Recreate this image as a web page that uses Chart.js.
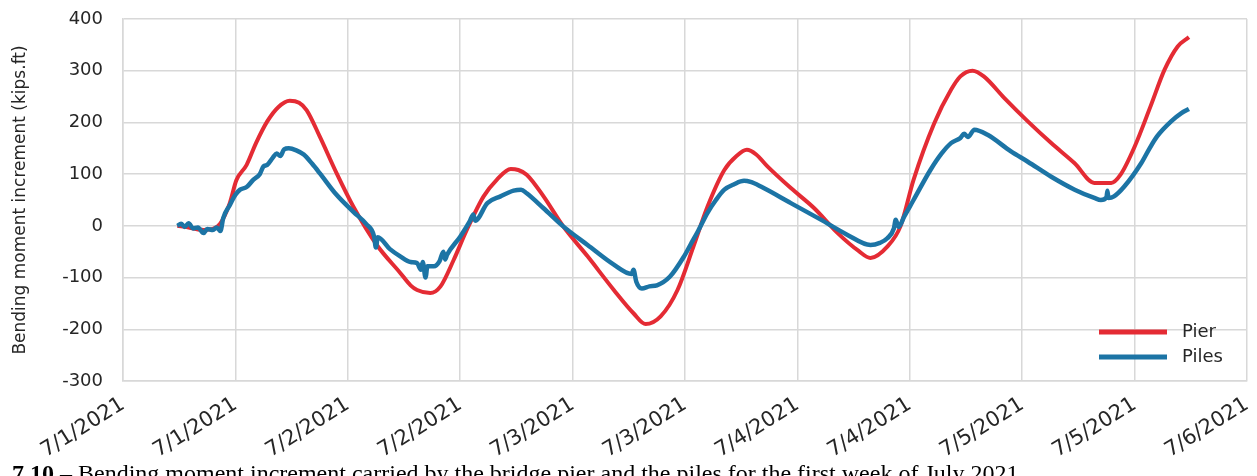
<!DOCTYPE html>
<html>
<head>
<meta charset="utf-8">
<script src="https://cdn.jsdelivr.net/npm/chart.js@4.4.0/dist/chart.umd.min.js"></script>
<style>
    html, body { margin: 0; padding: 0; background: #fff; overflow: hidden; }
    #wrap { position: relative; width: 1257px; height: 476px; }
    #caption {
        position: absolute; left: 12px; top: 461px;
        font-family: "Liberation Serif", serif; font-size: 24px; line-height: 24px;
        white-space: nowrap; color: #000;
    }
</style>
</head>
<body>
<div id="wrap">
    <canvas id="momentChart" width="1257" height="476"></canvas>
    <div id="caption"><b>7.10</b> – Bending moment increment carried by the bridge pier and the piles for the first week of July 2021.</div>
</div>
<script>
// hours since 7/1/2021 00:00, values in kips.ft
const pierHours = [5.8, 7.0, 8.6, 9.6, 10.4, 11.4, 12.1, 13.2, 14.2, 15.4, 16.6, 17.8, 18.8, 19.6, 21.0, 22.8, 24.6, 27.1, 29.6, 30.7,
    31.4, 32.8, 33.9, 35.3, 36.7, 38.5, 39.9, 41.4, 42.2, 43.1, 44.9, 47.0, 49.6, 52.4, 54.5, 55.8, 57.4, 59.2, 60.9, 62.4,
    64.2, 65.5, 66.6, 67.6, 68.8, 71.3, 73.8, 76.3, 78.5, 79.8, 81.6, 83.0, 84.4, 86.6, 88.4, 89.4, 90.7, 91.9, 94.1, 96.6,
    99.1, 101.6, 103.7, 105.5, 106.5, 108.0, 109.7, 111.2, 112.6, 113.8];
const pierValues = [0, -3, -8, -6, 5, 44, 88, 118, 160, 202, 230, 242, 238, 224, 173, 102, 37, -37, -91, -115,
    -124, -130, -117, -66, -8, 57, 89, 110, 108, 99, 57, -1, -59, -124, -169, -190, -175, -124, -40, 37,
    108, 135, 147, 138, 115, 73, 34, -14, -48, -62, -40, -1, 89, 198, 263, 289, 300, 289, 247, 202,
    160, 121, 83, 83, 99, 153, 231, 302, 347, 365];

const pilesHours = [5.8, 6.2, 6.6, 7.0, 7.5, 8.0, 8.6, 9.0, 9.6, 10.0, 10.4, 10.7, 11.4, 12.0, 12.5, 13.2, 13.9, 14.6, 15.0, 15.4,
    16.0, 16.4, 16.8, 17.2, 17.7, 18.5, 19.3, 20.2, 21.0, 22.8, 24.6, 26.0, 26.8, 27.0, 27.2, 28.5, 29.6, 30.7, 31.4, 31.8,
    32.0, 32.3, 32.5, 33.2, 33.8, 34.2, 34.4, 34.6, 36.0, 37.0, 37.4, 37.6, 38.9, 40.3, 41.7, 42.5, 43.1, 44.9, 47.0, 49.6,
    52.4, 54.3, 54.5, 54.8, 55.4, 56.2, 57.0, 58.4, 59.9, 60.6, 61.4, 62.4, 63.3, 64.2, 65.2, 66.3, 67.0, 68.1, 71.3, 74.5,
    77.3, 79.8, 80.8, 81.6, 82.3, 82.5, 82.8, 83.4, 84.4, 86.2, 87.4, 88.4, 89.4, 89.8, 90.2, 90.9, 92.3, 94.8, 96.6, 99.1,
    101.6, 103.7, 104.4, 105.0, 105.1, 105.2, 105.8, 106.9, 108.7, 109.6, 110.4, 111.9, 113.0, 113.8];
const pilesValues = [0, 4, -2, 5, -5, -3, -14, -6, -8, -3, -10, 15, 40, 60, 70, 75, 89, 100, 115, 118,
    132, 140, 135, 148, 150, 146, 138, 120, 102, 60, 27, 3, -20, -42, -22, -45, -59, -70, -72, -85,
    -70, -100, -78, -78, -68, -50, -65, -56, -21, 8, 22, 10, 44, 57, 68, 70, 63, 34, -1, -37,
    -75, -93, -85, -108, -121, -117, -115, -98, -59, -36, -10, 25, 50, 70, 80, 87, 85, 76, 44, 12,
    -17, -37, -33, -24, -5, 12, -2, 18, 50, 108, 140, 160, 170, 178, 172, 186, 176, 144, 124, 95,
    70, 54, 50, 55, 68, 54, 57, 76, 121, 150, 173, 202, 218, 226];

const yTicks = [-300, -200, -100, 0, 100, 200, 300, 400];
const xTickHours = [0, 12, 24, 36, 48, 60, 72, 84, 96, 108, 120];
const seriesNames = ['Pier', 'Piles'];
const seriesColors = ['#e42b34', '#1c74a5'];

const toPoints = (hours, values) => hours.map((h, i) => ({ x: h, y: values[i] }));
const dayLabel = (h) => '7/' + (1 + Math.floor(h / 24)) + '/2021';

const gridColor = '#d8d8d8';
const textColor = '#262626';
const fontFamily = '"DejaVu Sans", sans-serif';

// legend sits inside the plot, bottom right
const insideLegend = {
    id: 'insideLegend',
    afterDatasetsDraw(chart) {
        const ctx = chart.ctx;
        const area = chart.chartArea;
        const rows = [area.bottom - 49, area.bottom - 24];
        ctx.save();
        ctx.font = '18px ' + fontFamily;
        ctx.textBaseline = 'middle';
        ctx.textAlign = 'left';
        seriesNames.forEach((name, i) => {
            ctx.beginPath();
            ctx.strokeStyle = seriesColors[i];
            ctx.lineWidth = 5;
            ctx.moveTo(area.right - 148, rows[i]);
            ctx.lineTo(area.right - 80, rows[i]);
            ctx.stroke();
            ctx.fillStyle = textColor;
            ctx.fillText(name, area.right - 65, rows[i]);
        });
        ctx.restore();
    }
};

const ctx = document.getElementById('momentChart').getContext('2d');
new Chart(ctx, {
    type: 'line',
    data: {
        datasets: [{
            label: seriesNames[0],
            data: toPoints(pierHours, pierValues),
            borderColor: seriesColors[0],
            borderWidth: 4,
            pointRadius: 0,
            cubicInterpolationMode: 'monotone',
            order: 1
        }, {
            label: seriesNames[1],
            data: toPoints(pilesHours, pilesValues),
            borderColor: seriesColors[1],
            borderWidth: 4.5,
            pointRadius: 0,
            cubicInterpolationMode: 'monotone',
            order: 0
        }]
    },
    options: {
        responsive: false,
        animation: false,
        layout: { padding: { left: 0, right: 10, top: 19, bottom: 0 } },
        plugins: {
            legend: { display: false },
            tooltip: { enabled: false }
        },
        scales: {
            x: {
                type: 'linear',
                min: 0,
                max: 120,
                afterBuildTicks: (scale) => {
                    scale.ticks = xTickHours.map(v => ({ value: v }));
                },
                afterFit: (scale) => {
                    scale.height = 95;
                    scale.paddingLeft = 0;
                    scale.paddingRight = 0;
                },
                grid: { color: gridColor, lineWidth: 1.5, drawTicks: false },
                border: { color: gridColor, width: 1.5 },
                ticks: {
                    autoSkip: false,
                    minRotation: 32,
                    maxRotation: 32,
                    padding: 11,
                    color: textColor,
                    font: { family: fontFamily, size: 21 },
                    callback: (v) => dayLabel(v)
                }
            },
            y: {
                min: -300,
                max: 400,
                afterBuildTicks: (scale) => {
                    scale.ticks = yTicks.map(v => ({ value: v }));
                },
                afterFit: (scale) => {
                    scale.width = 123;
                    scale.paddingTop = 0;
                    scale.paddingBottom = 0;
                },
                grid: { color: gridColor, lineWidth: 1.5, drawTicks: false },
                border: { color: gridColor, width: 1.5 },
                ticks: {
                    padding: 20,
                    color: textColor,
                    font: { family: fontFamily, size: 18 }
                },
                title: {
                    display: true,
                    text: 'Bending moment increment (kips.ft)',
                    color: textColor,
                    font: { family: fontFamily, size: 17 },
                    padding: { top: 10, bottom: 0 }
                }
            }
        }
    },
    plugins: [insideLegend]
});
</script>
</body>
</html>
